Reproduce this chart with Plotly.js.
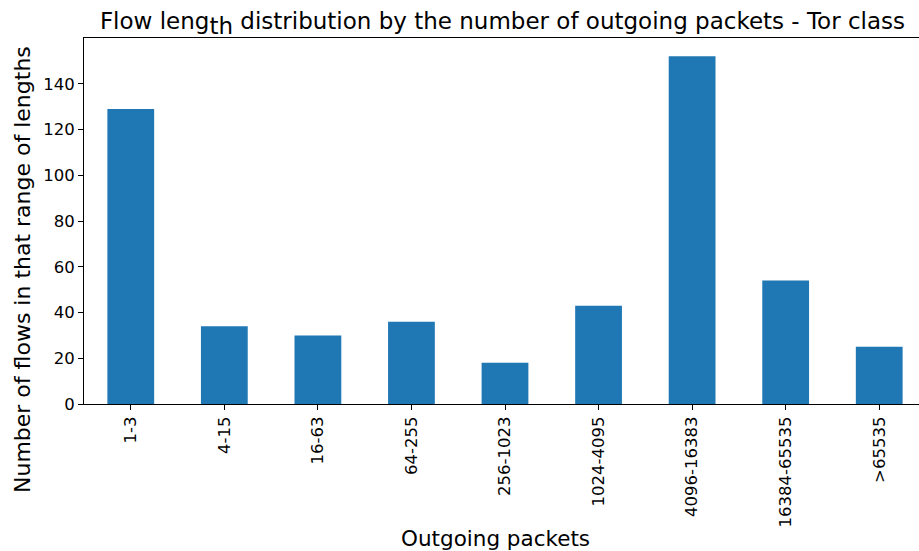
<!DOCTYPE html>
<html>
<head>
<meta charset="utf-8">
<script src="https://cdn.plot.ly/plotly-3.0.1.min.js"></script>
<style>html,body{margin:0;padding:0;overflow:hidden;background:#fff;}</style>
</head>
<body>
<div id="chart" style="width:930px;height:551px;"></div>
<script>
const categories = ["1-3","4-15","16-63","64-255","256-1023","1024-4095","4096-16383","16384-65535",">65535"];
const flowCounts = [129, 34, 30, 36, 18, 43, 152, 54, 25];
const yTicks = [0, 20, 40, 60, 80, 100, 120, 140];
const xTitle = 'Outgoing packets';
const yTitle = 'Number of flows in that range of lengths';

const trace = {
  type: 'bar',
  x: categories.map((_, i) => i),
  y: flowCounts,
  width: 0.5,
  marker: {color: '#1f77b4', line: {width: 0}},
  hoverinfo: 'x+y'
};

const layout = {
  width: 930, height: 551,
  margin: {l: 84, r: 4, t: 38, b: 147},
  paper_bgcolor: '#fff', plot_bgcolor: '#fff',
  font: {family: 'DejaVu Sans', color: '#000', size: 15},
  showlegend: false,
  title: {
    text: 'Flow leng<sub><span style="font-size:23px">th</span></sub> distribution by the number of outgoing packets - Tor class',
    font: {family: 'DejaVu Sans', size: 23, color: '#000'},
    x: 0.497, xref: 'paper', xanchor: 'center',
    y: 0.977, yref: 'container', yanchor: 'top', pad: {t: 0}
  },
  xaxis: {
    range: [-0.5, 8.5],
    tickmode: 'array',
    tickvals: categories.map((_, i) => i),
    ticktext: categories,
    tickangle: -90,
    ticks: 'outside', ticklen: 5, tickwidth: 1, tickcolor: '#000',
    tickfont: {family: 'DejaVu Sans', size: 16.5, color: '#000'},
    showline: true, linecolor: '#000', linewidth: 1, mirror: true,
    showgrid: false, zeroline: false
  },
  yaxis: {
    range: [0, 160],
    tickmode: 'array',
    tickvals: yTicks,
    ticktext: yTicks.map(String),
    ticks: 'outside', ticklen: 5, tickwidth: 1, tickcolor: '#000',
    tickfont: {family: 'DejaVu Sans', size: 16.5, color: '#000'},
    showline: true, linecolor: '#000', linewidth: 1, mirror: true,
    showgrid: false, zeroline: false
  },
  annotations: [
    {
      text: xTitle, showarrow: false,
      xref: 'paper', yref: 'paper',
      x: (495 - 84) / 842, y: (404 - 538) / 366,
      xanchor: 'center', yanchor: 'middle',
      font: {family: 'DejaVu Sans', size: 21.5, color: '#000'}
    },
    {
      text: yTitle, showarrow: false, textangle: -90,
      xref: 'paper', yref: 'paper',
      x: (22 - 84) / 842, y: (404 - 270) / 366,
      xanchor: 'center', yanchor: 'middle',
      font: {family: 'DejaVu Sans', size: 22, color: '#000'}
    }
  ]
};

Plotly.newPlot('chart', [trace], layout, {displayModeBar: false, staticPlot: true});
</script>
</body>
</html>
